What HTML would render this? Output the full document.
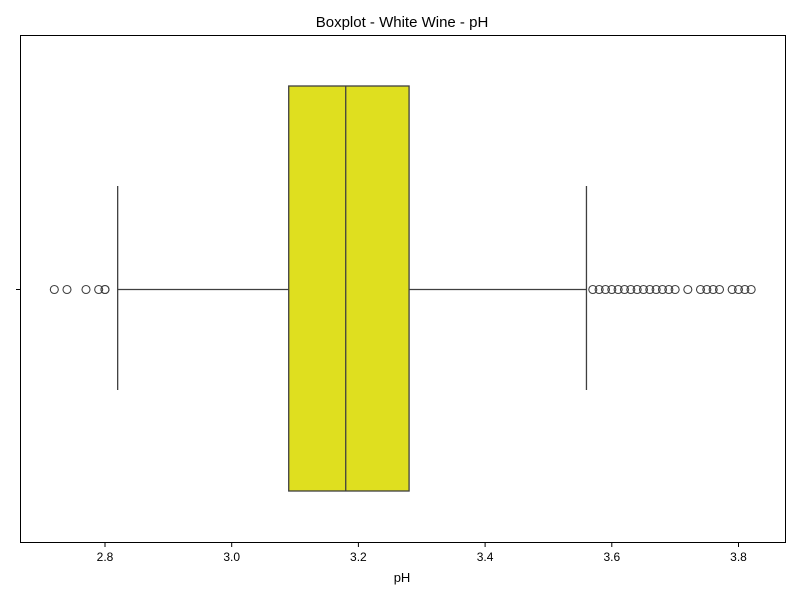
<!DOCTYPE html>
<html><head><meta charset="utf-8"><style>
body{margin:0;background:#fff;font-family:"Liberation Sans","DejaVu Sans",sans-serif}
</style></head><body>
<svg id="chart" width="800" height="600" xmlns="http://www.w3.org/2000/svg" font-family="Liberation Sans, DejaVu Sans, sans-serif">
<text x="402" y="27" text-anchor="middle" font-size="15">Boxplot - White Wine - pH</text>
<rect x="20.5" y="35.5" width="765" height="507" fill="none" stroke="#000" stroke-width="1"/>
<g id="marks"></g>
<text x="402" y="582" text-anchor="middle" font-size="13">pH</text>
</svg>
<script>
const tickValues=[2.8,3.0,3.2,3.4,3.6,3.8];
const tickLabels=["2.8","3.0","3.2","3.4","3.6","3.8"];
const boxStats=[2.82,3.09,3.18,3.28,3.56]; // whiskerLow,q1,median,q3,whiskerHigh
const outliers=[2.72,2.74,2.77,2.79,2.80,2.80,3.57,3.58,3.59,3.60,3.61,3.62,3.63,3.64,3.65,3.66,3.67,3.68,3.69,3.70,3.72,3.74,3.75,3.76,3.77,3.79,3.80,3.81,3.82];
const X=v=>105+(v-2.8)*633.5;
const cy=289.5;
const g=document.getElementById('marks');
const NS='http://www.w3.org/2000/svg';
function mk(t,a){const e=document.createElementNS(NS,t);for(const k in a)e.setAttribute(k,a[k]);g.appendChild(e);return e;}
const c='#3f3f3f';
let e=mk('line',{x1:X(boxStats[0]),x2:X(boxStats[1]),y1:cy,y2:cy,stroke:c,'stroke-width':1.3});

e=mk('line',{x1:X(boxStats[3]),x2:X(boxStats[4]),y1:cy,y2:cy,stroke:c,'stroke-width':1.3});

e=mk('line',{x1:X(boxStats[0]),x2:X(boxStats[0]),y1:186,y2:390,stroke:c,'stroke-width':1.3});

e=mk('line',{x1:X(boxStats[4]),x2:X(boxStats[4]),y1:186,y2:390,stroke:c,'stroke-width':1.3});

e=mk('rect',{x:X(boxStats[1]),y:86,width:X(boxStats[3])-X(boxStats[1]),height:405,fill:'#dfdf1f',stroke:c,'stroke-width':1.3});

e=mk('line',{x1:X(boxStats[2]),x2:X(boxStats[2]),y1:86,y2:491,stroke:c,'stroke-width':1.3});

outliers.forEach(v=>{const o=mk('circle',{cx:X(v),cy:cy,r:4,fill:'none',stroke:c,'stroke-width':1.1});

});
tickValues.forEach((v,i)=>{const t=mk('line',{x1:X(v),x2:X(v),y1:542.5,y2:547,stroke:'#000'});


const l=mk('text',{x:X(v),y:561,'text-anchor':'middle','font-size':12});l.textContent=tickLabels[i];

});
e=mk('line',{x1:16,x2:20.5,y1:cy,y2:cy,stroke:'#000'});

</script>
</body></html>
